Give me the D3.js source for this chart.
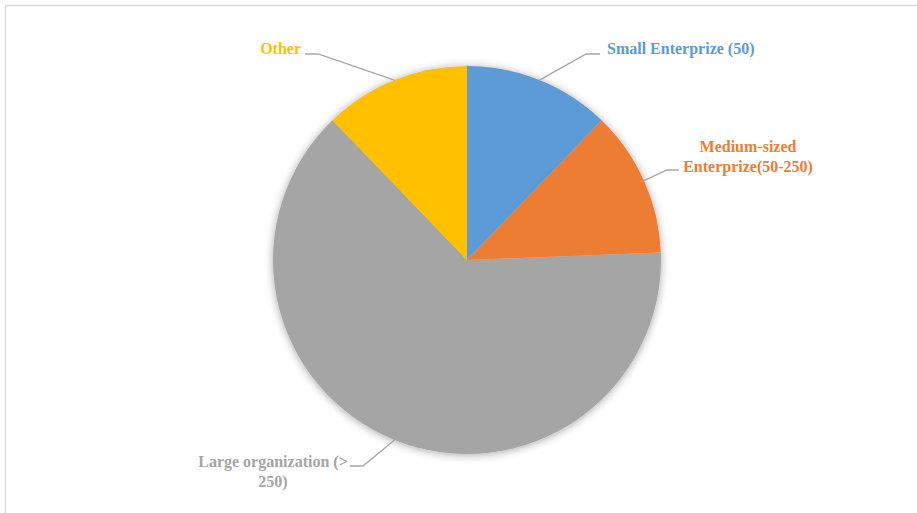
<!DOCTYPE html>
<html>
<head>
<meta charset="utf-8">
<script src="https://cdn.jsdelivr.net/npm/d3@7/dist/d3.min.js"></script>
<style>
  html, body { margin: 0; padding: 0; background: #fff; }
  svg { display: block; }
</style>
</head>
<body>
<script>
// Organisation size breakdown
const categories = ["Small Enterprize (50)", "Medium-sized Enterprize(50-250)", "Large organization (> 250)", "Other"];
const values = [5, 5, 26, 5];
const colors = ["#5B9BD5", "#ED7D31", "#A5A5A5", "#FFC000"];
// label text split into lines
const labelLines = [
  ["Small Enterprize (50)"],
  ["Medium-sized", "Enterprize(50-250)"],
  ["Large organization (>", "250)"],
  ["Other"]
];

const W = 917, H = 513;
const cx = 467, cy = 260, R = 194;

// Label layout: elbow/end of leader line and first baseline (relative to pie centre)
const labelLayout = [
  { elbow: [119, -206], end: [133, -206], tx: 140, ty: -206, anchor: "start" },
  { elbow: [200, -90],  end: [212, -90],  tx: 281, ty: -108, anchor: "middle" },
  { elbow: [-104, 206], end: [-117, 206], tx: -194, ty: 207, anchor: "middle" },
  { elbow: [-149, -206], end: [-162, -206], tx: -166, ty: -206, anchor: "end" }
];
const lineStep = 19.5;

const svg = d3.select("body").append("svg")
  .attr("width", W).attr("height", H);

// chart frame
svg.append("rect")
  .attr("x", 5.5).attr("y", 5.5)
  .attr("width", W + 10).attr("height", H + 10)
  .attr("fill", "#fff")
  .attr("stroke", "#D9D9D9").attr("stroke-width", 1.5);

const defs = svg.append("defs");
const f = defs.append("filter").attr("id", "pieShadow")
  .attr("x", "-20%").attr("y", "-20%").attr("width", "140%").attr("height", "140%");
f.append("feDropShadow")
  .attr("dx", 0).attr("dy", 1)
  .attr("stdDeviation", 4)
  .attr("flood-color", "#000").attr("flood-opacity", 0.35);

const pie = d3.pie().sort(null).value(d => d)(values);
const arc = d3.arc().innerRadius(0).outerRadius(R);

const g = svg.append("g").attr("transform", `translate(${cx},${cy})`);

g.append("g").attr("filter", "url(#pieShadow)")
  .selectAll("path").data(pie).join("path")
  .attr("d", arc)
  .attr("fill", (d, i) => colors[i]);

// leader lines start on the rim at each slice's mid angle
const lines = g.append("g");
pie.forEach((d, i) => {
  const a = (d.startAngle + d.endAngle) / 2;
  const p0 = [R * Math.sin(a), -R * Math.cos(a)];
  const L = labelLayout[i];
  lines.append("polyline")
    .attr("points", [p0, L.elbow, L.end].map(p => p.join(",")).join(" "))
    .attr("fill", "none")
    .attr("stroke", "#A6A6A6")
    .attr("stroke-width", 1.3);
});

const labels = g.append("g")
  .attr("font-family", "'Liberation Serif', 'DejaVu Serif', serif")
  .attr("font-weight", "bold")
  .attr("font-size", 16);

labelLines.forEach((ls, i) => {
  const L = labelLayout[i];
  const t = labels.append("text")
    .attr("text-anchor", L.anchor)
    .attr("fill", colors[i]);
  ls.forEach((s, j) => {
    t.append("tspan")
      .attr("x", L.tx)
      .attr("y", L.ty + j * lineStep)
      .text(s);
  });
});
</script>
</body>
</html>
